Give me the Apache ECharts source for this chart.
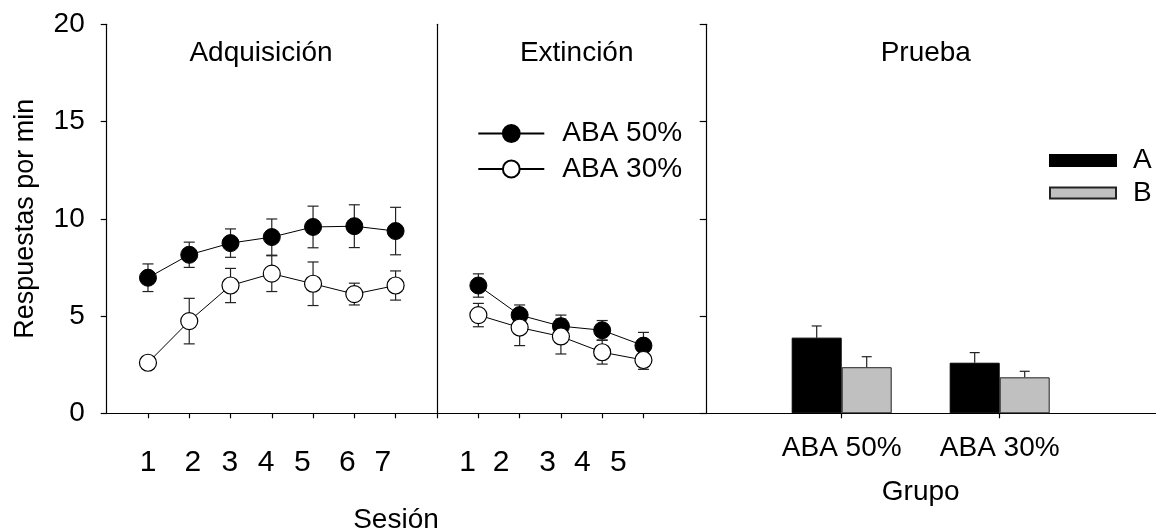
<!DOCTYPE html>
<html><head><meta charset="utf-8">
<script src="https://cdn.jsdelivr.net/npm/echarts@6/dist/echarts.min.js"></script>
<style>html,body{margin:0;padding:0;background:#fff}#c{width:1156px;height:531px}</style>
</head><body><div id="c"></div>
<script>
// ---------- data ----------
const seriesNames = ['ABA 50%', 'ABA 30%'];
const acqSessions = [1, 2, 3, 4, 5, 6, 7];
const acqLabels = ['1', '2', '3', '4', '5', '6', '7'];
const acqLabelPos = [1.0, 2.09, 2.985, 3.86, 4.74, 5.83, 6.69];
const acq50 = [6.97, 8.15, 8.75, 9.06, 9.58, 9.62, 9.37];
const acq50Sem = [0.71, 0.65, 0.73, 0.93, 1.07, 1.10, 1.22];
const acq30 = [2.60, 4.74, 6.57, 7.18, 6.66, 6.13, 6.57];
const acq30Sem = [0.30, 1.17, 0.88, 0.92, 1.12, 0.56, 0.75];
const extSessions = [1, 2, 3, 4, 5];
const extLabels = ['1', '2', '3', '4', '5'];
const extLabelPos = [0.74, 1.55, 2.68, 3.52, 4.39];
const ext50 = [6.57, 5.05, 4.48, 4.27, 3.48];
const ext50Sem = [0.60, 0.52, 0.57, 0.50, 0.68];
const ext30 = [5.05, 4.41, 3.95, 3.14, 2.74];
const ext30Sem = [0.60, 0.93, 0.90, 0.61, 0.48];
const groups = ['ABA 50%', 'ABA 30%'];
const contexts = ['A', 'B'];
const testA = [3.89, 2.60];
const testASem = [0.60, 0.52];
const testB = [2.37, 1.85];
const testBSem = [0.54, 0.31];
const yMax = 20, yStep = 5;

// ---------- layout / style ----------
const FONT = 'Liberation Sans, Arial, Helvetica, sans-serif';
const TOP = 24.3, H = 389;
const unitPx = 41.27;
const g0 = {left: 106.7, width: 330.4};
const g1 = {left: 437.1, width: 269.6};
const g2 = {left: 706.7, width: 449.3};
const g3 = {left: 762.7, width: 316};
const barW = 50;
const AX = {color: '#000', width: 1.2};

function pairs(xs, ys, es) { return xs.map((x, i) => es ? [x, ys[i], es[i]] : [x, ys[i]]); }
function nearestLabel(pos, labels) {
  return function (v) {
    let bi = 0, bd = 1e9;
    pos.forEach((p, i) => { const d = Math.abs(p - v); if (d < bd) { bd = d; bi = i; } });
    return labels[bi];
  };
}
function errRender(both, cap, offset) {
  return function (params, api) {
    const x = api.value(0), m = api.value(1), s = api.value(2);
    const t = api.coord([x, m + s]);
    const b = api.coord([x, both ? m - s : m]);
    const cx = t[0] + (offset || 0);
    const st = {stroke: '#222', lineWidth: 1.2};
    const ch = [
      {type: 'line', shape: {x1: cx, y1: t[1], x2: cx, y2: b[1]}, style: st},
      {type: 'line', shape: {x1: cx - cap / 2, y1: t[1], x2: cx + cap / 2, y2: t[1]}, style: st}
    ];
    if (both) ch.push({type: 'line', shape: {x1: cx - cap / 2, y1: b[1], x2: cx + cap / 2, y2: b[1]}, style: st});
    return {type: 'group', children: ch};
  };
}
const filled = {color: '#000', borderColor: '#000', borderWidth: 1};
const open = {color: '#fff', borderColor: '#000', borderWidth: 1.2};
function lineSeries(name, xi, data, style) {
  return {type: 'line', name: name, xAxisIndex: xi, yAxisIndex: xi, data: data,
    symbol: 'circle', symbolSize: 17, itemStyle: style,
    lineStyle: {color: '#000', width: 1}, z: 3, silent: true};
}
function errSeries(xi, data, both, cap, offset) {
  return {type: 'custom', xAxisIndex: xi, yAxisIndex: xi, data: data,
    renderItem: errRender(both, cap, offset), encode: {x: 0, y: 1}, z: 1, silent: true};
}

const chart = echarts.init(document.getElementById('c'), null, {renderer: 'canvas'});
chart.setOption({
  animation: false,
  backgroundColor: '#fff',
  textStyle: {fontFamily: FONT, color: '#000'},
  grid: [
    {left: g0.left, top: TOP, width: g0.width, height: H},
    {left: g1.left, top: TOP, width: g1.width, height: H},
    {left: g2.left, top: TOP, width: g2.width, height: H},
    {left: g3.left, top: TOP, width: g3.width, height: H}
  ],
  xAxis: [
    {type: 'value', gridIndex: 0, min: 0, max: g0.width / unitPx, splitLine: {show: false},
      axisLine: {show: true, lineStyle: AX},
      axisTick: {show: true, customValues: acqSessions, length: 5, lineStyle: AX},
      axisLabel: {customValues: acqLabelPos, formatter: nearestLabel(acqLabelPos, acqLabels),
        fontSize: 30, fontFamily: FONT, color: '#000', margin: 34}},
    {type: 'value', gridIndex: 1, min: 0, max: g1.width / unitPx, splitLine: {show: false},
      axisLine: {show: true, lineStyle: AX},
      axisTick: {show: true, customValues: [0].concat(extSessions), length: 5, lineStyle: AX},
      axisLabel: {customValues: extLabelPos, formatter: nearestLabel(extLabelPos, extLabels),
        fontSize: 30, fontFamily: FONT, color: '#000', margin: 34}},
    {type: 'value', gridIndex: 2, min: 0, max: 1, splitLine: {show: false},
      axisLine: {show: true, lineStyle: AX}, axisTick: {show: false}, axisLabel: {show: false}},
    {type: 'category', gridIndex: 3, data: groups, boundaryGap: true,
      axisLine: {show: false}, splitLine: {show: false},
      axisTick: {show: true, alignWithLabel: true, length: 5, lineStyle: AX},
      axisLabel: {fontSize: 28, fontFamily: FONT, color: '#000', margin: 21},
      name: 'Grupo', nameLocation: 'middle', nameGap: 65,
      nameTextStyle: {fontSize: 28, fontFamily: FONT, color: '#000'}}
  ],
  yAxis: [
    {type: 'value', gridIndex: 0, min: 0, max: yMax, interval: yStep, splitLine: {show: false},
      axisLine: {show: true, lineStyle: AX},
      axisTick: {show: true, length: 6, lineStyle: AX},
      axisLabel: {fontSize: 28, fontFamily: FONT, color: '#000', margin: 22},
      name: 'Respuestas por min', nameLocation: 'middle', nameGap: 68,
      nameTextStyle: {fontSize: 27, fontFamily: FONT, color: '#000'}},
    {type: 'value', gridIndex: 1, min: 0, max: yMax, splitLine: {show: false},
      axisLine: {show: true, lineStyle: AX}, axisTick: {show: false}, axisLabel: {show: false}},
    {type: 'value', gridIndex: 2, min: 0, max: yMax, interval: yStep, splitLine: {show: false},
      axisLine: {show: true, lineStyle: AX},
      axisTick: {show: true, length: 7, lineStyle: AX}, axisLabel: {show: false}},
    {type: 'value', gridIndex: 3, min: 0, max: yMax, show: false}
  ],
  legend: [
    {data: seriesNames, orient: 'vertical', left: 477.3, top: 119.5, padding: 0,
      itemWidth: 66, itemHeight: 21, itemGap: 7.5, selectedMode: false,
      textStyle: {fontSize: 28, fontFamily: FONT, color: '#000', padding: [0, 0, 0, 13]}},
    {data: contexts, orient: 'vertical', left: 1049, top: 146.5, padding: 0, icon: 'rect',
      itemWidth: 66, itemHeight: 11, itemGap: 4.5, selectedMode: false,
      textStyle: {fontSize: 28, fontFamily: FONT, color: '#000', padding: [0, 0, 0, 12]}}
  ],
  graphic: [
    {type: 'text', x: 261, y: 53, style: {text: 'Adquisición', font: '28px ' + FONT, fill: '#000', textAlign: 'center', textVerticalAlign: 'middle'}},
    {type: 'text', x: 576.7, y: 53, style: {text: 'Extinción', font: '28px ' + FONT, fill: '#000', textAlign: 'center', textVerticalAlign: 'middle'}},
    {type: 'text', x: 925.8, y: 53, style: {text: 'Prueba', font: '28px ' + FONT, fill: '#000', textAlign: 'center', textVerticalAlign: 'middle'}},
    {type: 'text', x: 396, y: 520, style: {text: 'Sesión', font: '28px ' + FONT, fill: '#000', textAlign: 'center', textVerticalAlign: 'middle'}}
  ],
  series: [
    errSeries(0, pairs(acqSessions, acq50, acq50Sem), true, 11),
    errSeries(0, pairs(acqSessions, acq30, acq30Sem), true, 11),
    lineSeries(seriesNames[0], 0, pairs(acqSessions, acq50), filled),
    lineSeries(seriesNames[1], 0, pairs(acqSessions, acq30), open),
    errSeries(1, pairs(extSessions, ext50, ext50Sem), true, 11),
    errSeries(1, pairs(extSessions, ext30, ext30Sem), true, 11),
    lineSeries(seriesNames[0], 1, pairs(extSessions, ext50), filled),
    lineSeries(seriesNames[1], 1, pairs(extSessions, ext30), open),
    {type: 'bar', name: contexts[0], xAxisIndex: 3, yAxisIndex: 3, data: testA, barWidth: barW, barGap: '0%',
      itemStyle: {color: '#000', borderColor: '#000', borderWidth: 1}, silent: true, z: 2},
    {type: 'bar', name: contexts[1], xAxisIndex: 3, yAxisIndex: 3, data: testB, barWidth: barW, barGap: '0%',
      itemStyle: {color: '#c0c0c0', borderColor: '#222', borderWidth: 1}, silent: true, z: 2},
    errSeries(3, groups.map((g, i) => [i, testA[i], testASem[i]]), false, 10, -barW / 2),
    errSeries(3, groups.map((g, i) => [i, testB[i], testBSem[i]]), false, 10, barW / 2)
  ]
});
</script></body></html>
